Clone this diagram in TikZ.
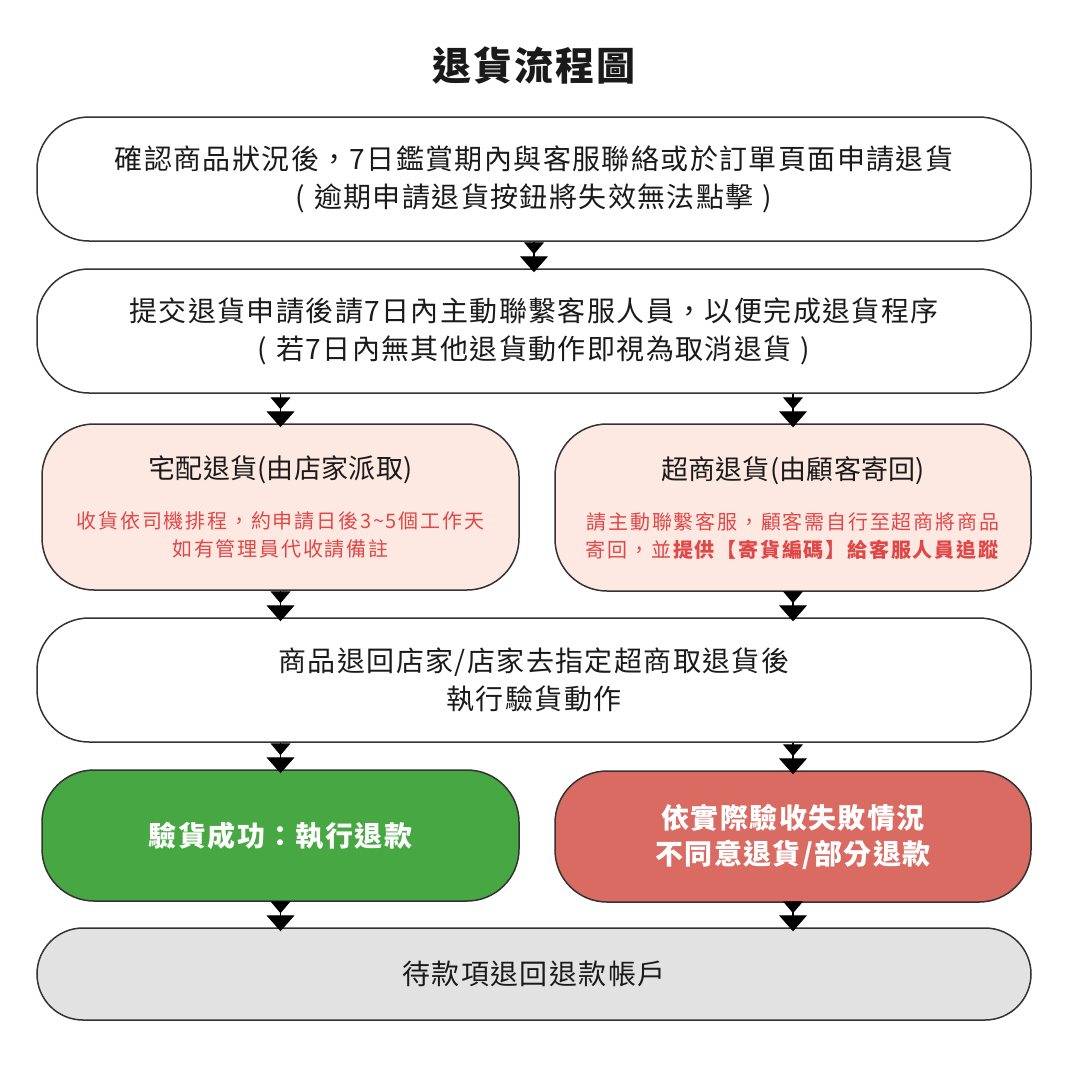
\documentclass[tikz,border=0pt]{standalone}
\usepackage{fontspec}
\usetikzlibrary{arrows.meta}
\newfontfamily\cjkA{Noto Sans CJK TC}[LetterSpace=5]
\newfontfamily\cjkB{Noto Sans CJK TC}[LetterSpace=1]
\newfontfamily\cjkC{Noto Sans CJK TC}[LetterSpace=9]
\newfontfamily\cjkT{Noto Sans CJK TC}[LetterSpace=5]
\definecolor{strokec}{HTML}{333333}
\definecolor{txt}{HTML}{1A1A1A}
\definecolor{pinkf}{HTML}{FDE9E2}
\definecolor{redtxt}{HTML}{E04848}
\definecolor{greenf}{HTML}{47A742}
\definecolor{redf}{HTML}{DA6B63}
\definecolor{grayf}{HTML}{E2E2E2}
\begin{document}
\begin{tikzpicture}[x=1pt,y=-1pt,
  box/.style={draw=strokec, line width=1.5pt, rounded corners=52pt, fill=white,
    text=txt, align=center, inner sep=0pt, font=\cjkA\fontsize{28}{38}\selectfont},
  wide/.style={minimum width=994pt, minimum height=124pt},
  half/.style={minimum width=477pt},
  flow/.style={line width=1.2pt, shorten >=-4pt,
    -{Triangle[width=20pt,length=12pt,sep=2pt] Triangle[width=28pt,length=16pt]}},
  subtitle/.style={text=txt, inner sep=0pt, font=\cjkB\fontsize{27}{30}\selectfont},
  note/.style={text=redtxt, align=center, inner sep=0pt, font=\cjkC\fontsize{20}{28}\selectfont}
]
\fill[white] (0,0) rectangle (1069,1072);
\useasboundingbox (0,0) rectangle (1069,1072);

\node[text=txt, font=\cjkT\bfseries\fontsize{39}{42}\selectfont] (title) at (534,66) {退貨流程圖};

\node[box, wide] (b1) at (534,179)
  {確認商品狀況後，7日鑑賞期內與客服聯絡或於訂單頁面申請退貨\\(\hspace{9pt}逾期申請退貨按鈕將失效無法點擊\hspace{9pt})};
\node[box, wide] (b2) at (534,331)
  {提交退貨申請後請7日內主動聯繫客服人員，以便完成退貨程序\\(\hspace{9pt}若7日內無其他退貨動作即視為取消退貨\hspace{9pt})};

\node[box, half, minimum height=166pt, fill=pinkf] (b3l) at (280.5,507) {};
\node[box, minimum width=476pt, minimum height=167pt, fill=pinkf] (b3r) at (793,507.5) {};
\node[subtitle] (t3l) at ([yshift=37pt]b3l.center) {宅配退貨(由店家派取)};
\node[note] (n3l) at ([yshift=-28pt]b3l.center) {收貨依司機排程，約申請日後3\textasciitilde5個工作天\\如有管理員代收請備註};
\node[subtitle] (t3r) at ([yshift=37pt]b3r.center) {超商退貨(由顧客寄回)};
\node[note] (n3r) at ([yshift=-28pt]b3r.center) {請主動聯繫客服，顧客需自行至超商將商品\\寄回，並\textbf{提供【寄貨編碼】給客服人員追蹤}};

\node[box, wide] (b4) at (534,680)
  {商品退回店家/店家去指定超商取退貨後\\執行驗貨動作};

\node[box, half, minimum height=131pt, fill=greenf, text=white, font=\cjkA\bfseries\fontsize{28}{36}\selectfont] (b5l) at (280.5,835.5)
  {驗貨成功：執行退款};
\node[box, minimum width=476pt, minimum height=131pt, fill=redf, text=white, font=\cjkA\bfseries\fontsize{28}{36}\selectfont] (b5r) at (793,836.5)
  {依實際驗收失敗情況\\不同意退貨/部分退款};

\node[box, wide, minimum height=92pt, rounded corners=46pt, fill=grayf] (b6) at (534,974)
  {待款項退回退款帳戶};

\draw[flow] (b1.south) -- (b2.north);
\draw[flow] (b2.south -| b3l) -- (b3l.north);
\draw[flow] (b2.south -| b3r) -- (b3r.north);
\draw[flow] (b3l.south) -- (b4.north -| b3l);
\draw[flow] (b3r.south) -- (b4.north -| b3r);
\draw[flow] (b4.south -| b5l) -- (b5l.north);
\draw[flow] (b4.south -| b5r) -- (b5r.north);
\draw[flow] (b5l.south) -- (b6.north -| b5l);
\draw[flow] (b5r.south) -- (b6.north -| b5r);
\end{tikzpicture}
\end{document}
